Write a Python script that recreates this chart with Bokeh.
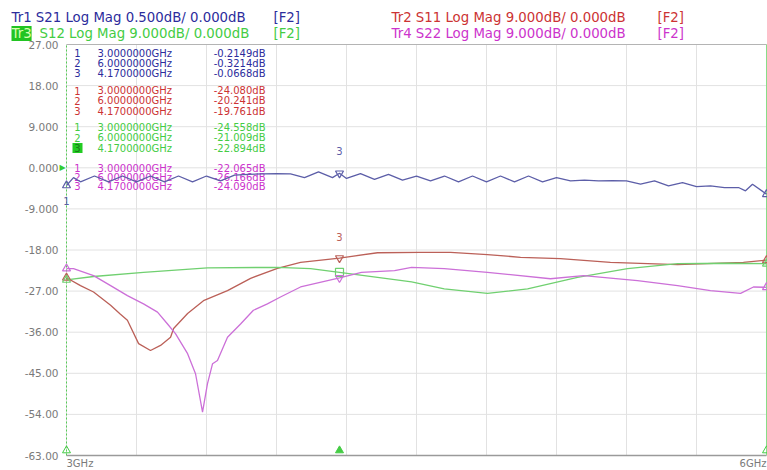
from bokeh.plotting import figure
from bokeh.models import Range1d, Label
from bokeh.embed import file_html
from bokeh.resources import INLINE
from bokeh.core.properties import value

# ---------------- data ----------------
s21_freq = [3.00, 3.03, 3.06, 3.12, 3.18, 3.24, 3.30, 3.36, 3.42, 3.48, 3.54, 3.60, 3.66, 3.72,
            3.78, 3.84, 3.90, 3.96, 4.02, 4.08, 4.14, 4.17, 4.20, 4.26, 4.32, 4.38, 4.44, 4.50,
            4.56, 4.62, 4.68, 4.74, 4.80, 4.86, 4.92, 4.98, 5.04, 5.10, 5.16, 5.22, 5.28, 5.34,
            5.40, 5.46, 5.52, 5.58, 5.64, 5.70, 5.76, 5.82, 5.88, 5.91, 5.94, 6.00]
s21_db = [-0.215, -0.12, -0.17, -0.10, -0.17, -0.10, -0.17, -0.10, -0.17, -0.10, -0.17, -0.10,
          -0.16, -0.09, -0.08, -0.075, -0.07, -0.075, -0.12, -0.05, -0.12, -0.067, -0.13, -0.07,
          -0.14, -0.08, -0.15, -0.10, -0.16, -0.10, -0.17, -0.10, -0.17, -0.10, -0.17, -0.10,
          -0.17, -0.12, -0.16, -0.15, -0.16, -0.155, -0.16, -0.20, -0.16, -0.22, -0.18, -0.23,
          -0.22, -0.24, -0.24, -0.28, -0.20, -0.32]

s11_freq = [3.00, 3.06, 3.116, 3.189, 3.23, 3.261, 3.309, 3.36, 3.403, 3.446, 3.459, 3.519,
            3.587, 3.69, 3.789, 3.904, 4.003, 4.17, 4.333, 4.517, 4.646, 4.804, 4.946, 5.117,
            5.331, 5.619, 5.901, 6.00]
s11_db = [-24.08, -25.8, -27.2, -30.1, -32.0, -33.4, -38.5, -40.0, -38.9, -37.1, -35.2, -31.9,
          -29.1, -26.9, -24.2, -22.0, -20.7, -19.76, -18.6, -18.5, -18.5, -19.0, -19.6, -19.9,
          -20.7, -21.2, -20.7, -20.24]

s12_freq = [3.00, 3.116, 3.33, 3.604, 3.904, 4.046, 4.17, 4.333, 4.479, 4.619, 4.804, 4.976,
            5.19, 5.404, 5.619, 5.833, 6.00]
s12_db = [-24.56, -23.8, -22.9, -21.9, -21.8, -22.1, -22.89, -24.0, -25.0, -26.5, -27.5, -26.5,
          -24.0, -22.1, -21.0, -20.9, -21.01]

s22_freq = [3.00, 3.03, 3.116, 3.189, 3.261, 3.33, 3.39, 3.433, 3.467, 3.519, 3.553, 3.583,
            3.604, 3.626, 3.647, 3.69, 3.746, 3.801, 3.861, 3.917, 4.003, 4.17, 4.264, 4.406,
            4.479, 4.619, 4.804, 5.074, 5.216, 5.447, 5.619, 5.76, 5.889, 5.944, 6.00]
s22_db = [-22.07, -22.1, -23.6, -25.8, -28.0, -29.8, -31.6, -34.2, -36.3, -40.7, -45.1, -53.5,
          -47.3, -42.9, -42.2, -37.1, -34.2, -31.2, -29.8, -28.3, -26.1, -24.09, -22.9, -22.5,
          -21.8, -22.1, -22.9, -24.3, -23.6, -24.7, -25.8, -26.9, -27.5, -26.1, -26.17]

marker_ids = ["1", "2", "3"]
marker_freq = [3.0, 6.0, 4.17]
s21_marks = [-0.2149, -0.3214, -0.0668]
s11_marks = [-24.080, -20.241, -19.761]
s12_marks = [-24.558, -21.009, -22.894]
s22_marks = [-22.065, -26.166, -24.090]

y_ticks = [27, 18, 9, 0, -9, -18, -27, -36, -45, -54, -63]
y_tick_labels = ["27.00", "18.00", "9.000", "0.000", "-9.000", "-18.00", "-27.00",
                 "-36.00", "-45.00", "-54.00", "-63.00"]
x_grid = [3.0, 3.3, 3.6, 3.9, 4.2, 4.5, 4.8, 5.1, 5.4, 5.7, 6.0]
x_span_labels = ["3GHz", "6GHz"]

headers = [
    ("Tr1 S21 Log Mag 0.500dB/ 0.000dB", "[F2]"),
    ("Tr2 S11 Log Mag 9.000dB/ 0.000dB", "[F2]"),
    ("S12 Log Mag 9.000dB/ 0.000dB", "[F2]"),
    ("Tr4 S22 Log Mag 9.000dB/ 0.000dB", "[F2]"),
]

# ---------------- styling / geometry ----------------
BLUE_T, BLUE_L = "#2c2c9c", "#5c5ea8"
RED_T, RED_L = "#cc3333", "#bb6058"
GRN_T, GRN_L = "#44cc44", "#70d070"
MAG_T, MAG_L = "#cc33cc", "#cc70d8"
FONT = "DejaVu Sans"

W, H = 767, 470
PL, PR, PT, PB = 66, 766, 44, 455   # plot area edges in page px
XMIN, XMAX = x_grid[0], x_grid[-1]
YMAX, YMIN = y_ticks[0], y_ticks[-1]
KX = (XMAX - XMIN) / (PR - PL)
KY = (YMAX - YMIN) / (PB - PT)


def dx(px):
    return XMIN + (px - PL) * KX


def dy(py):
    return YMAX - (py - PT) * KY


y_lo, y_hi = dy(H), dy(0)
p = figure(width=W, height=H, x_range=Range1d(dx(0), dx(W)), y_range=Range1d(y_lo, y_hi),
           output_backend="svg", toolbar_location=None, x_axis_location=None,
           y_axis_location=None, min_border=0)
p.extra_y_ranges = {"s21": Range1d(y_lo / 18.0, y_hi / 18.0)}
p.background_fill_color = "white"
p.border_fill_color = "white"
p.outline_line_color = None
p.grid.grid_line_color = None

# grid (drawn through the data scales, limited to the plot area)
p.segment(x0=x_grid, y0=[YMIN] * len(x_grid), x1=x_grid, y1=[YMAX] * len(x_grid),
          line_color="#e2e2e2", line_width=1)
p.segment(x0=[XMIN] * len(y_ticks), y0=y_ticks, x1=[XMAX] * len(y_ticks), y1=y_ticks,
          line_color="#e2e2e2", line_width=1)
# frame edges
p.segment(x0=[XMIN], y0=[YMAX], x1=[XMAX], y1=[YMAX], line_color="#b4b4b4", line_width=1)
p.segment(x0=[XMIN], y0=[YMIN], x1=[XMAX], y1=[YMIN], line_color="#9a9a9a", line_width=1.5)
p.segment(x0=[XMIN], y0=[YMIN], x1=[XMIN], y1=[YMAX], line_color="#55cc55", line_width=1,
          line_dash="2 2")
p.segment(x0=[XMAX], y0=[YMIN], x1=[XMAX], y1=[YMAX], line_color="#88dd88", line_width=1)

# y tick labels
p.text(x=[XMIN] * len(y_ticks), y=y_ticks, text=y_tick_labels, x_offset=-8,
       text_font=value(FONT), text_font_size="10.5px", text_color="#7a7a7a",
       text_align="right", text_baseline="middle")

# marker table (under the traces)
groups = [(s21_marks, BLUE_T, "{:.4f}dB"), (s11_marks, RED_T, "{:.3f}dB"),
          (s12_marks, GRN_T, "{:.3f}dB"), (s22_marks, MAG_T, "{:.3f}dB")]
group_rows = [(52.7, 62.7, 72.7), (90, 100, 110.5), (126.7, 137, 147.5), (167.7, 176.7, 185.7)]
for (marks, col, fmt), rows in zip(groups, group_rows):
    ys = [dy(r) for r in rows]
    if col == GRN_T:
        p.rect([dx(77)], [ys[2]], width=10, height=10, width_units="screen",
               height_units="screen", fill_color="#22cc22", line_color=None)
    p.text([dx(77)] * 3, ys, text=marker_ids, text_font=value(FONT), text_font_size="10px",
           text_color=[col, col, "#1a7a1a" if col == GRN_T else col],
           text_align="center", text_baseline="middle")
    p.text([dx(97)] * 3, ys, text=["{:.7f}GHz".format(f) for f in marker_freq],
           text_font=value(FONT), text_font_size="10px", text_color=col,
           text_align="left", text_baseline="middle")
    p.text([dx(265)] * 3, ys, text=[fmt.format(v) for v in marks],
           text_font=value(FONT), text_font_size="10px", text_color=col,
           text_align="right", text_baseline="middle")

# traces
p.line(s11_freq, s11_db, line_color=RED_L, line_width=1.3)
p.line(s12_freq, s12_db, line_color=GRN_L, line_width=1.3)
p.line(s22_freq, s22_db, line_color=MAG_L, line_width=1.3)
p.line(s21_freq, s21_db, line_color=BLUE_L, line_width=1.3, y_range_name="s21")

# trace markers
for marks, col, rng in [(s11_marks, RED_L, "default"), (s12_marks, GRN_L, "default"),
                        (s22_marks, MAG_L, "default"), (s21_marks, BLUE_L, "s21")]:
    p.scatter(marker_freq[:2], marks[:2], marker="triangle", size=8, fill_color=None,
              line_color=col, line_width=1.2, y_range_name=rng)
    mk = "square" if col == GRN_L else "inverted_triangle"
    p.scatter(marker_freq[2:], marks[2:], marker=mk, size=8, fill_color=None,
              line_color=col, line_width=1.2, y_range_name=rng)

# stimulus triangles at the bottom
p.scatter(marker_freq, [dy(450)] * 3, marker="triangle", size=8, line_color="#44cc44",
          fill_color="#44cc44", fill_alpha=[0, 0, 1])

# marker number labels on the traces
p.add_layout(Label(x=dx(66), y=dy(200), text="1", text_font=FONT, text_font_size="10px",
                   text_color=BLUE_L, text_align="center", text_baseline="middle"))
p.add_layout(Label(x=dx(339), y=dy(150), text="3", text_font=FONT, text_font_size="10px",
                   text_color=BLUE_L, text_align="center", text_baseline="middle"))
p.add_layout(Label(x=dx(339), y=dy(236), text="3", text_font=FONT, text_font_size="10px",
                   text_color=RED_L, text_align="center", text_baseline="middle"))
# reference position arrow
p.add_layout(Label(x=dx(59), y=0, text="\u25b6", text_font=FONT, text_font_size="8px",
                   text_color="#33cc33", text_align="left", text_baseline="middle"))

# header lines
HS = "13.3px"
hdr = [(headers[0], 11, 17, 273, BLUE_T), (headers[1], 391, 17, 657, RED_T),
       (headers[2], 39, 33, 273, GRN_T), (headers[3], 391, 33, 657, MAG_T)]
for (txt, tag), xpx, ypx, tagx, col in hdr:
    p.add_layout(Label(x=dx(xpx), y=dy(ypx), text=txt, text_font=FONT, text_font_size=HS,
                       text_color=col, text_baseline="middle"))
    p.add_layout(Label(x=dx(tagx), y=dy(ypx), text=tag, text_font=FONT, text_font_size=HS,
                       text_color=col, text_baseline="middle"))
p.add_layout(Label(x=dx(11), y=dy(33), text="Tr3", text_font=FONT, text_font_size=HS,
                   text_color="#d8ffb0", text_baseline="middle",
                   background_fill_color="#22c422"))

# frequency span labels
p.add_layout(Label(x=XMIN, y=dy(457), text=x_span_labels[0], text_font=FONT,
                   text_font_size="10px", text_color="#7a7a7a", text_align="left",
                   text_baseline="top"))
p.add_layout(Label(x=XMAX, y=dy(457), text=x_span_labels[1], text_font=FONT,
                   text_font_size="10px", text_color="#7a7a7a", text_align="right",
                   text_baseline="top"))

open("out.html", "w").write(file_html(p, INLINE))
